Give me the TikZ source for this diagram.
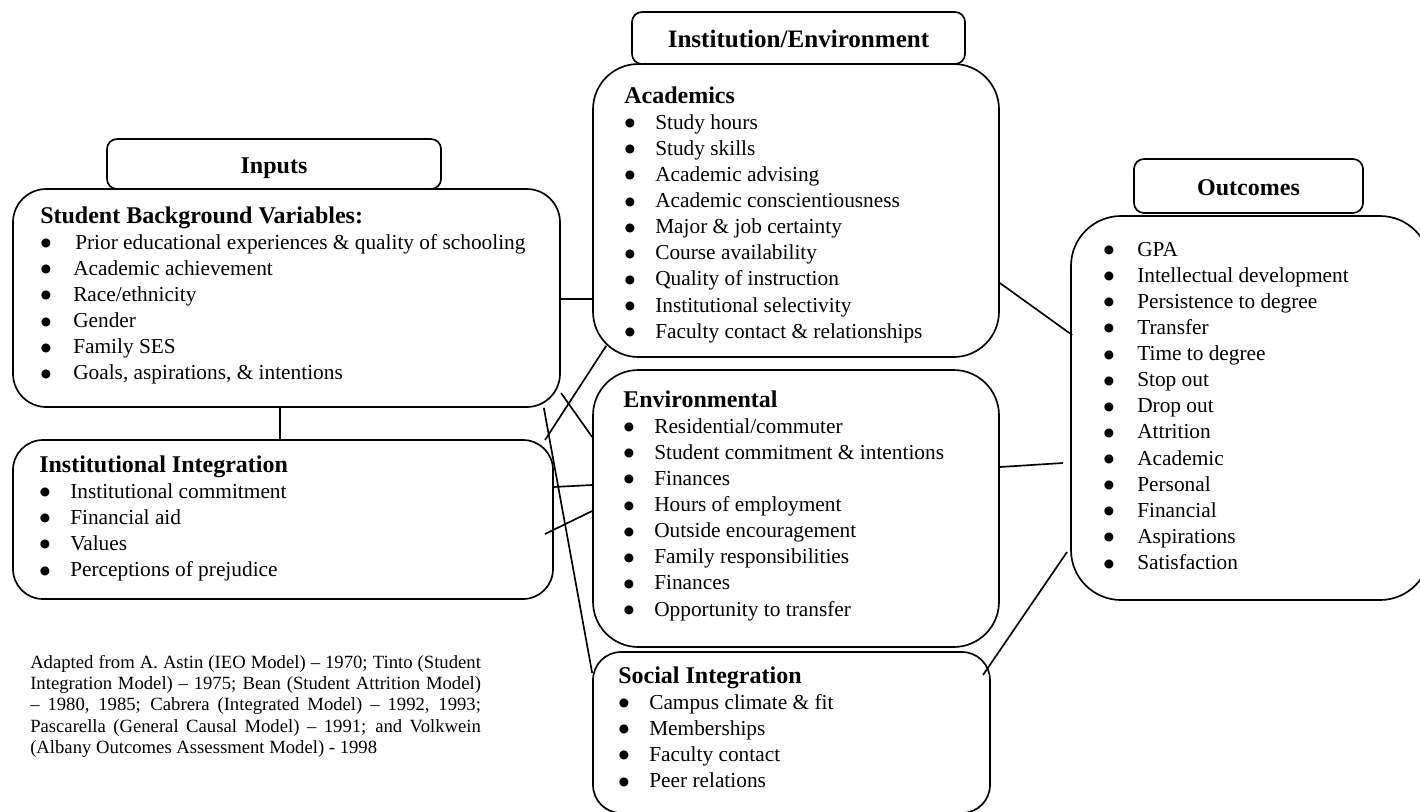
\documentclass[tikz,border=0pt]{standalone}
\usepackage{fontspec}
\setmainfont{Liberation Serif}
\newfontfamily\dvs{DejaVu Sans}
\usetikzlibrary{fit,calc}
\newcommand\ttlf{\fontsize{18}{19.6}\selectfont\bfseries}
\newcommand\itf{\fontsize{16}{19.6}\selectfont}
\newcommand\bt{\hspace{0.5pt}\raisebox{1.9pt}{\fontsize{8.8}{8.8}\dvs ●}}
\begin{document}
\begin{tikzpicture}[x=0.75pt,y=-0.75pt,
  box/.style={draw,line width=1.25pt,inner sep=0pt},
  hdr/.style={box,rounded corners=7.5pt},
  conn/.style={line width=1.25pt},
  txt/.style={anchor=base west,inner sep=0pt,font=\itf},
  hlbl/.style={anchor=base,inner sep=0pt,font=\ttlf}]
\useasboundingbox (0,0) rectangle (1420,811);

% boxes
\node[hdr,fit={(107,139)(441,189)}] (inhdr) {};
\node[hlbl] (inlbl) at (274,173) {Inputs};
\node[box,rounded corners=25pt,fit={(13,189)(560,407)}] (sbv) {};
\node[box,rounded corners=22.5pt,fit={(13,440)(553,599)}] (ii) {};
\node[hdr,fit={(632,12)(965,64)}] (iehdr) {};
\node[hlbl,font=\fontsize{18.8}{19.6}\selectfont\bfseries] (ielbl) at (798.5,47) {Institution/Environment};
\node[box,rounded corners=34pt,fit={(593,64)(999,357)}] (acad) {};
\node[box,rounded corners=34pt,fit={(593,370)(999,647)}] (env) {};
\node[box,rounded corners=21pt,fit={(593,652)(990,813)}] (soc) {};
\node[hdr,fit={(1134,159)(1363,213)}] (outhdr) {};
\node[hlbl] (outlbl) at (1248.5,195) {Outcomes};
\node[box,rounded corners=37.5pt,fit={(1071,216)(1430,600)}] (out) {};

% texts
\node[txt] (sbvtxt) at (40,223) {\begin{tabular}[t]{@{}p{24.75pt}@{}l@{}}
\multicolumn{2}{@{}l@{}}{\ttlf Student Background Variables:}\\
\bt & \hspace{1.5pt}Prior educational experiences \& quality of schooling\\
\bt & Academic achievement\\
\bt & Race/ethnicity\\
\bt & Gender\\
\bt & Family SES\\
\bt & Goals, aspirations, \& intentions
\end{tabular}};

\node[txt] (iitxt) at (39,472) {\begin{tabular}[t]{@{}p{23.25pt}@{}l@{}}
\multicolumn{2}{@{}l@{}}{\ttlf Institutional Integration}\\
\bt & Institutional commitment\\
\bt & Financial aid\\
\bt & Values\\
\bt & Perceptions of prejudice
\end{tabular}};

\node[txt] (acadtxt) at (624,103) {\begin{tabular}[t]{@{}p{23.25pt}@{}l@{}}
\multicolumn{2}{@{}l@{}}{\ttlf Academics}\\
\bt & Study hours\\
\bt & Study skills\\
\bt & Academic advising\\
\bt & Academic conscientiousness\\
\bt & Major \& job certainty\\
\bt & Course availability\\
\bt & Quality of instruction\\
\bt & Institutional selectivity\\
\bt & Faculty contact \& relationships
\end{tabular}};

\node[txt] (envtxt) at (623,407) {\begin{tabular}[t]{@{}p{23.25pt}@{}l@{}}
\multicolumn{2}{@{}l@{}}{\ttlf Environmental}\\
\bt & Residential/commuter\\
\bt & Student commitment \& intentions\\
\bt & Finances\\
\bt & Hours of employment\\
\bt & Outside encouragement\\
\bt & Family responsibilities\\
\bt & Finances\\
\bt & Opportunity to transfer
\end{tabular}};

\node[txt] (soctxt) at (618,683) {\begin{tabular}[t]{@{}p{23.25pt}@{}l@{}}
\multicolumn{2}{@{}l@{}}{\ttlf Social Integration}\\
\bt & Campus climate \& fit\\
\bt & Memberships\\
\bt & Faculty contact\\
\bt & Peer relations
\end{tabular}};

\node[txt] (outtxt) at (1103,256) {\begin{tabular}[t]{@{}p{25.5pt}@{}l@{}}
\bt & GPA\\
\bt & Intellectual development\\
\bt & Persistence to degree\\
\bt & Transfer\\
\bt & Time to degree\\
\bt & Stop out\\
\bt & Drop out\\
\bt & Attrition\\
\bt & Academic\\
\bt & Personal\\
\bt & Financial\\
\bt & Aspirations\\
\bt & Satisfaction
\end{tabular}};

\node[anchor=base west,inner sep=0pt,font=\fontsize{14}{16}\selectfont] (ref) at (30,668) {\begin{tabular}[t]{@{}l@{}}
\makebox[338pt][s]{Adapted from A. Astin (IEO Model) – 1970; Tinto (Student}\\
\makebox[338pt][s]{Integration Model) – 1975; Bean (Student Attrition Model)}\\
\makebox[338pt][s]{– 1980, 1985; Cabrera (Integrated Model) – 1992, 1993;}\\
\makebox[338pt][s]{Pascarella (General Causal Model) – 1991; and Volkwein}\\
(Albany Outcomes Assessment Model) - 1998
\end{tabular}};

% connectors
\draw[conn] (sbv.south -| 280,0) -- (ii.north -| 280,0);
\draw[conn] (sbv.east |- 0,299) -- (acad.west |- 0,299);
\coordinate (c2a) at (545,440);
\draw[conn] (c2a) -- ($(acad.south west)+(14,-12)$);
\coordinate (c3a) at (561,393);
\draw[conn] (c3a) -- (env.west |- 0,437);
\draw[conn] ($(sbv.south east)+(-17,0)$) -- (soc.west |- 0,673);
\draw[conn] (ii.east |- 0,487) -- (env.west |- 0,485);
\coordinate (c6a) at (545,534);
\draw[conn] (c6a) -- (env.west |- 0,511);
\draw[conn] (acad.east |- 0,283) -- ($(out.west |- 0,335)+(2,0)$);
\coordinate (c8b) at (1063,463);
\draw[conn] (env.east |- 0,467) -- (c8b);
\coordinate (c9a) at (1067,552);
\coordinate (c9b) at (983,675);
\draw[conn] (c9a) -- (c9b);
\end{tikzpicture}
\end{document}
